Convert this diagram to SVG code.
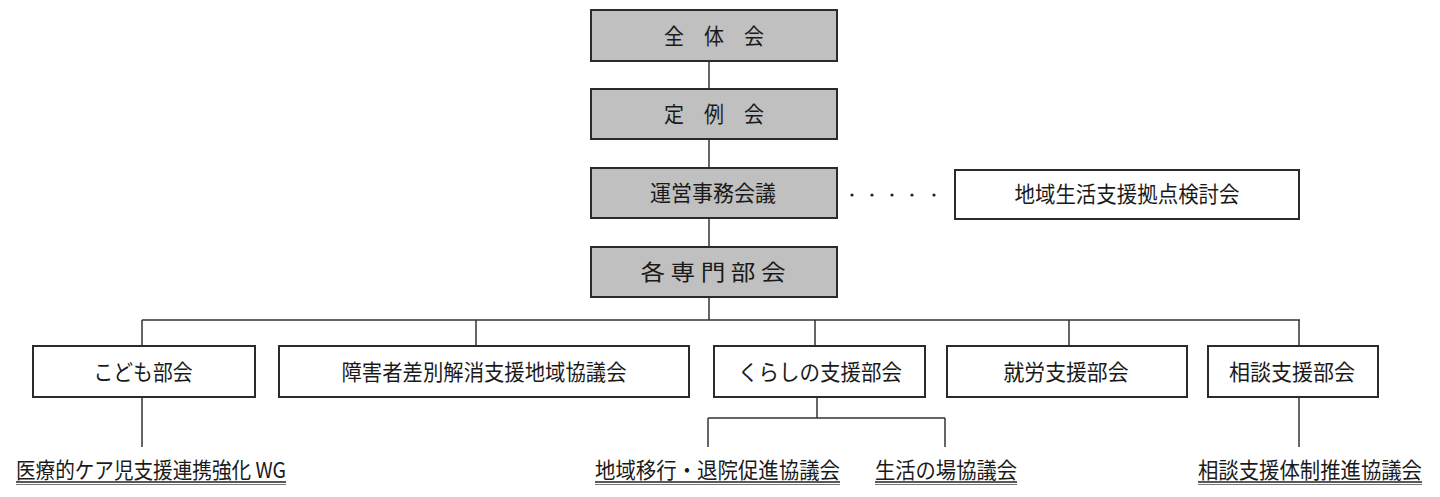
<svg xmlns="http://www.w3.org/2000/svg" width="1440" height="497" viewBox="0 0 1440 497">
<style>
.box{stroke:#2b2b2b;stroke-width:2}
.g{fill:#c0c0c0}
.w{fill:#ffffff}
text{font-family:"Noto Sans CJK JP","Noto Sans",sans-serif;font-size:22px;fill:#1a1a1a;text-anchor:middle}
.lab{text-anchor:start}
.conn line{stroke:#333;stroke-width:1.5}
.ul1{stroke:#222;stroke-width:1.3}
.ul2{stroke:#777;stroke-width:1}
</style>
<rect width="1440" height="497" fill="#ffffff"/>
<g id="connectors" class="conn">
<line x1="709" y1="61" x2="709" y2="89"/>
<line x1="709" y1="139" x2="709" y2="168"/>
<line x1="709" y1="218" x2="709" y2="247"/>
<line x1="709" y1="297" x2="709" y2="320"/>
<line x1="142" y1="320" x2="1300" y2="320"/>
<line x1="142" y1="320" x2="142" y2="346"/>
<line x1="476" y1="320" x2="476" y2="346"/>
<line x1="815" y1="320" x2="815" y2="346"/>
<line x1="1069" y1="320" x2="1069" y2="346"/>
<line x1="1299" y1="320" x2="1299" y2="346"/>
<line x1="142" y1="397" x2="142" y2="447"/>
<line x1="817" y1="397" x2="817" y2="418"/>
<line x1="708" y1="418" x2="945" y2="418"/>
<line x1="708" y1="418" x2="708" y2="447"/>
<line x1="945" y1="418" x2="945" y2="447"/>
<line x1="1299" y1="397" x2="1299" y2="447"/>
<g fill="#222">
<circle cx="852" cy="195" r="1.6"/>
<circle cx="872" cy="195" r="1.6"/>
<circle cx="892" cy="195" r="1.6"/>
<circle cx="912" cy="195" r="1.6"/>
<circle cx="934" cy="195" r="1.6"/>
</g>
</g>
<g id="zentaikai"><rect class="box g" x="591" y="10" width="246" height="51"/><text x="714" y="44" textLength="100" lengthAdjust="spacingAndGlyphs">全　体　会</text></g>
<g id="teireikai"><rect class="box g" x="591" y="89" width="246" height="50"/><text x="714" y="122" textLength="100" lengthAdjust="spacingAndGlyphs">定　例　会</text></g>
<g id="unei"><rect class="box g" x="591" y="168" width="246" height="50"/><text x="713" y="201" textLength="126" lengthAdjust="spacingAndGlyphs">運営事務会議</text></g>
<g id="senmon"><rect class="box g" x="591" y="247" width="246" height="50"/><text x="713" y="280" textLength="145" lengthAdjust="spacingAndGlyphs">各 専 門 部 会</text></g>
<g id="kyoten"><rect class="box w" x="955" y="170" width="344" height="49"/><text x="1127" y="202" textLength="225" lengthAdjust="spacingAndGlyphs">地域生活支援拠点検討会</text></g>
<g id="kodomo"><rect class="box w" x="33" y="346" width="222" height="51"/><text x="143" y="380" textLength="99" lengthAdjust="spacingAndGlyphs">こども部会</text></g>
<g id="sabetsu"><rect class="box w" x="279" y="346" width="410" height="51"/><text x="484" y="380" textLength="285" lengthAdjust="spacingAndGlyphs">障害者差別解消支援地域協議会</text></g>
<g id="kurashi"><rect class="box w" x="714" y="346" width="211" height="51"/><text x="820" y="380" textLength="164" lengthAdjust="spacingAndGlyphs">くらしの支援部会</text></g>
<g id="shuro"><rect class="box w" x="947" y="346" width="240" height="51"/><text x="1066" y="380" textLength="125" lengthAdjust="spacingAndGlyphs">就労支援部会</text></g>
<g id="sodan"><rect class="box w" x="1208" y="346" width="170" height="51"/><text x="1292" y="380" textLength="126" lengthAdjust="spacingAndGlyphs">相談支援部会</text></g>
<g id="iryo"><text class="lab" x="16" y="478" textLength="270" lengthAdjust="spacingAndGlyphs">医療的ケア児支援連携強化 WG</text><line class="ul1" x1="16" y1="482" x2="286" y2="482"/><line class="ul2" x1="16" y1="484.5" x2="286" y2="484.5"/></g>
<g id="chiiki"><text class="lab" x="595" y="478" textLength="245" lengthAdjust="spacingAndGlyphs">地域移行・退院促進協議会</text><line class="ul1" x1="595" y1="482" x2="840" y2="482"/><line class="ul2" x1="595" y1="484.5" x2="840" y2="484.5"/></g>
<g id="seikatsu"><text class="lab" x="875" y="478" textLength="142" lengthAdjust="spacingAndGlyphs">生活の場協議会</text><line class="ul1" x1="875" y1="482" x2="1017" y2="482"/><line class="ul2" x1="875" y1="484.5" x2="1017" y2="484.5"/></g>
<g id="taisei"><text class="lab" x="1198" y="478" textLength="224" lengthAdjust="spacingAndGlyphs">相談支援体制推進協議会</text><line class="ul1" x1="1198" y1="482" x2="1422" y2="482"/><line class="ul2" x1="1198" y1="484.5" x2="1422" y2="484.5"/></g>
</svg>
